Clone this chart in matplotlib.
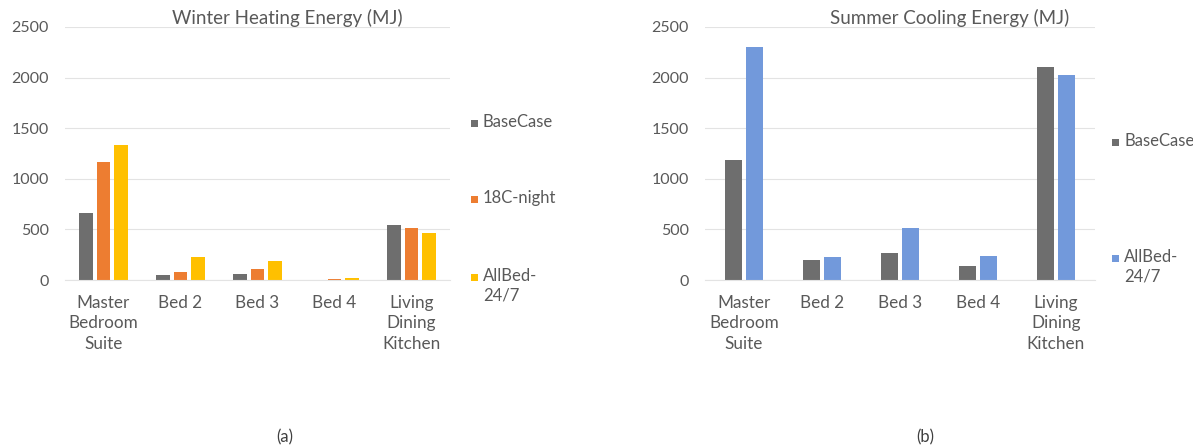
import matplotlib.pyplot as plt
import numpy as np
from matplotlib.patches import Rectangle

plt.rcParams['font.family'] = ['Lato', 'DejaVu Sans']

# Dados dos ambientes
rooms = ['Master\nBedroom\nSuite', 'Bed 2', 'Bed 3', 'Bed 4', 'Living\nDining\nKitchen']

# Inverno (MJ)
heat_base = [660, 50, 60, 3, 540]
heat_18c = [1165, 76, 109, 10, 511]
heat_allbed = [1330, 230, 188, 20, 467]

# Verão (MJ)
cool_base = [1185, 197, 263, 138, 2100]
cool_allbed = [2300, 230, 510, 237, 2024]

c_base = '#6E6E6E'
c_18c = '#ED7D31'
c_all = '#FFC000'
c_blue = '#7299DB'
txt = '#595959'

W, H = 1193, 445
fig = plt.figure(figsize=(W / 100, H / 100), dpi=100)


def px(x, y):
    # converte pixels (origem no topo) para fração da figura
    return x / W, 1 - y / H


def style_axis(ax):
    ax.set_ylim(0, 2500)
    ax.set_yticks(np.arange(0, 2501, 500))
    ax.grid(axis='y', color='#E3E3E3', linewidth=0.8)
    ax.set_axisbelow(True)
    for s in ['top', 'right', 'left']:
        ax.spines[s].set_visible(False)
    ax.spines['bottom'].set_color('#E3E3E3')
    ax.tick_params(axis='both', length=0, colors=txt, labelsize=11.5)
    ax.tick_params(axis='y', pad=11.5)
    ax.tick_params(axis='x', pad=11)
    ax.set_xlim(-0.5, len(rooms) - 0.5)
    ax.set_xticks(range(len(rooms)))
    ax.set_xticklabels(rooms, linespacing=1.32, fontsize=12.3)


def legend(entries, x, ys):
    for (label, color), y in zip(entries, ys):
        fig.patches.append(Rectangle(px(x, y + 4), 7 / W, 7 / H, transform=fig.transFigure,
                                     facecolor=color, edgecolor='none'))
        fig.text(*px(x + 12, y - 9), label, color=txt, fontsize=12, va='top', linespacing=1.3)


# (a) Aquecimento
ax1 = fig.add_axes([65 / W, 1 - 280 / H, 385 / W, 253 / H])
x = np.arange(len(rooms))
w = 0.175
d = 0.225
ax1.bar(x - d, heat_base, w, color=c_base)
ax1.bar(x, heat_18c, w, color=c_18c)
ax1.bar(x + d, heat_allbed, w, color=c_all)
style_axis(ax1)
fig.text(*px(287, 18), 'Winter Heating Energy (MJ)', ha='center', va='center', fontsize=13.5, color=txt)
legend([('BaseCase', c_base), ('18C-night', c_18c), ('AllBed-\n24/7', c_all)], 471, [123, 199, 277])
fig.text(*px(285, 437), '(a)', ha='center', va='center', fontsize=12, color='#404040')

# (b) Resfriamento
ax2 = fig.add_axes([705 / W, 1 - 280 / H, 390 / W, 253 / H])
w2 = 0.215
d2 = 0.135
ax2.bar(x - d2, cool_base, w2, color=c_base)
ax2.bar(x + d2, cool_allbed, w2, color=c_blue)
style_axis(ax2)
fig.text(*px(950, 18), 'Summer Cooling Energy (MJ)', ha='center', va='center', fontsize=13.5, color=txt)
legend([('BaseCase', c_base), ('AllBed-\n24/7', c_blue)], 1112, [142, 258])
fig.text(*px(925, 437), '(b)', ha='center', va='center', fontsize=12, color='#404040')

fig.savefig('out.png', dpi=100, facecolor='white')
